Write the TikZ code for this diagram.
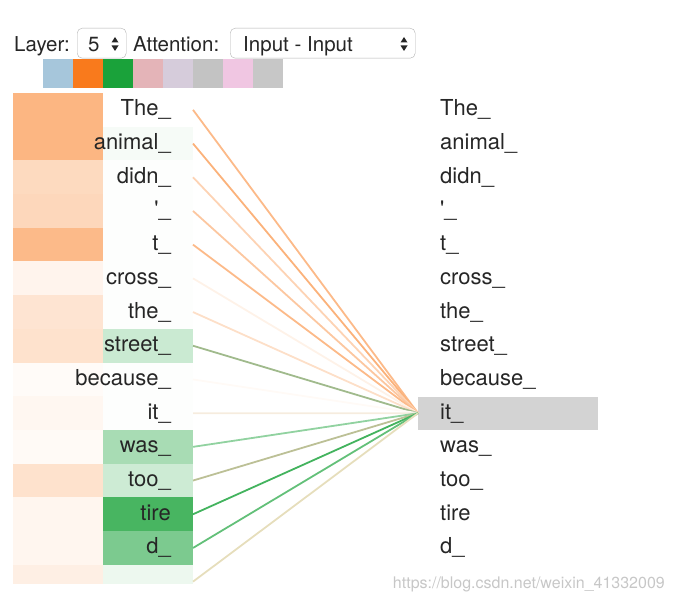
\documentclass[tikz,border=0pt]{standalone}
\usepackage{fontspec}
\setmainfont{TeX Gyre Heros}
\usetikzlibrary{positioning}
\definecolor{attorange}{RGB}{249,122,28}
\definecolor{attgreen}{RGB}{26,162,58}
\definecolor{selgray}{RGB}{211,211,211}
\definecolor{txt}{RGB}{38,38,38}
\definecolor{lnstreet}{RGB}{160,186,140}
\definecolor{lntoo}{RGB}{188,192,150}
\definecolor{lnit}{RGB}{246,236,222}
\definecolor{lnlast}{RGB}{230,222,188}
\tikzset{
  cell/.style={minimum width=90pt, minimum height=33.9pt, inner sep=0pt, outer sep=0pt},
  word/.style={inner sep=0pt, text=txt, font=\fontsize{22}{24}\selectfont},
  small/.style={inner sep=0pt, text=txt, font=\fontsize{20.5}{22}\selectfont},
  attn/.style={line width=1.8pt},
  swatch/.style={minimum width=30pt, minimum height=29pt, inner sep=0pt, outer sep=0pt},
  menu/.style={draw=black!30, rounded corners=5pt, fill=white, minimum height=30pt, inner sep=0pt}
}
\newcommand\spinner[2]{
  \fill[txt] (#1-3.5,#2-1.5) -- (#1+3.5,#2-1.5) -- (#1,#2-7) -- cycle;
  \fill[txt] (#1-3.5,#2+1.5) -- (#1+3.5,#2+1.5) -- (#1,#2+7) -- cycle;
}
\begin{document}
\begin{tikzpicture}[x=1pt, y=-1pt]
  \useasboundingbox (0,0) rectangle (674,602);
  \node[small, anchor=base west] (layer) at (14,52) {Layer:};
  \node[menu, minimum width=49pt, anchor=north west] (layermenu) at (77,28) {};
  \node[small, anchor=base west] (layerval) at (88,52) {5};
  \spinner{115}{44}
  \node[small, anchor=base west] (attention) at (133,52) {Attention:};
  \node[menu, minimum width=185pt, anchor=north west] (attnmenu) at (230,28) {};
  \node[small, anchor=base west] (attnval) at (243,52) {Input - Input};
  \spinner{404}{44}
  \node[swatch, fill={rgb,255:red,166;green,198;blue,219}, anchor=north west] (sw1) at (43,59) {};
  \node[swatch, fill=attorange, right=0pt of sw1] (sw2) {};
  \node[swatch, fill=attgreen, right=0pt of sw2] (sw3) {};
  \node[swatch, fill={rgb,255:red,228;green,180;blue,184}, right=0pt of sw3] (sw4) {};
  \node[swatch, fill={rgb,255:red,214;green,204;blue,219}, right=0pt of sw4] (sw5) {};
  \node[swatch, fill={rgb,255:red,195;green,195;blue,195}, right=0pt of sw5] (sw6) {};
  \node[swatch, fill={rgb,255:red,240;green,198;blue,226}, right=0pt of sw6] (sw7) {};
  \node[swatch, fill={rgb,255:red,199;green,199;blue,199}, right=0pt of sw7] (sw8) {};
  \node[fill=selgray, minimum width=180pt, minimum height=33pt, inner sep=0pt, anchor=west] (sel) at (418,413.2) {};
  \begin{scope}
    \clip (0,0) rectangle (674,583);
    \foreach \i/\w/\o/\g/\lc in {
        0/The\_/55/0/attorange!52, 1/animal\_/55/4/attorange!58,
        2/didn\_/28/1/attorange!33, 3/\textquotesingle\_/30/1/attorange!42,
        4/t\_/52/1/attorange!52, 5/cross\_/8/1/attorange!10,
        6/the\_/20/1/attorange!24, 7/street\_/22/23/lnstreet,
        8/because\_/3/1/attorange!4, 9/it\_/6/1/lnit,
        10/was\_/4/38/attgreen!48, 11/too\_/22/22/lntoo,
        12/tire/7/80/attgreen!82, 13/d\_/7/57/attgreen!68,
        14//12/8/lnlast} {
      \pgfmathsetmacro\yc{109.85+33.7*\i}
      \node[cell, fill=attorange!\o] (o\i) at (58,\yc) {};
      \node[cell, fill=attgreen!\g] (g\i) at (148,\yc) {};
      \draw[attn, \lc] (g\i.east) -- (sel.west);
      \node[word, anchor=base east] (src\i) at (171,\yc+6) {\w};
      \node[word, anchor=base west] (tgt\i) at (440,\yc+6) {\w};
    }
  \end{scope}
  \node[inner sep=0pt, text=black!22, font=\fontsize{16}{18}\selectfont, anchor=base east] (mark) at (665,588) {https://blog.csdn.net/weixin\_41332009};
\end{tikzpicture}
\end{document}
